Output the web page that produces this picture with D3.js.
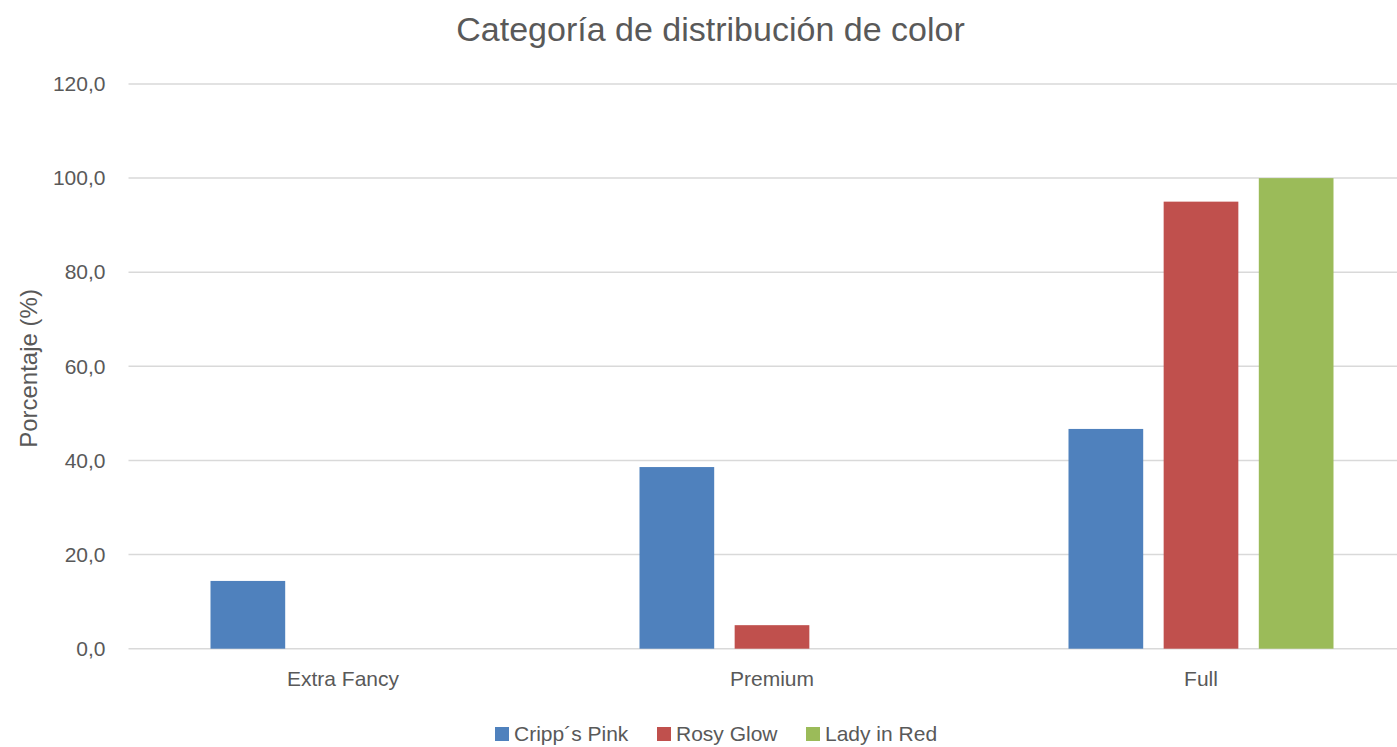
<!DOCTYPE html>
<html><head><meta charset="utf-8">
<script src="https://cdn.jsdelivr.net/npm/d3@7"></script>
<style>
html,body{margin:0;padding:0;background:#fff;}
svg text{font-family:"Liberation Sans",Arial,sans-serif;fill:#595959;}
</style></head>
<body>
<svg id="chart" width="1397" height="747"></svg>
<script>
const categories = ["Extra Fancy", "Premium", "Full"];
const seriesNames = ["Cripp\u00B4s Pink", "Rosy Glow", "Lady in Red"];
const crippsPink = [14.4, 38.6, 46.7];
const rosyGlow = [0, 5.0, 95.0];
const ladyInRed = [0, 0, 100.0];
const yTicks = [0, 20, 40, 60, 80, 100, 120];
const colors = ["#4f81bd", "#c0504d", "#9bbb59"];
const title = "Categoría de distribución de color";
const yTitle = "Porcentaje (%)";

const seriesValues = [crippsPink, rosyGlow, ladyInRed];
const svg = d3.select("#chart");
const plotLeft = 128.5, plotRight = 1415.5, plotTop = 84, plotBottom = 648.7;

const x0 = d3.scaleBand().domain(categories).range([plotLeft, plotRight]).padding(0);
const x1 = d3.scaleBand().domain(seriesNames).range([82, x0.bandwidth() - 82]).paddingInner(0.215).paddingOuter(0);
const y = d3.scaleLinear().domain([0, 120]).range([plotBottom, plotTop]);
const fmt = v => d3.format(".1f")(v).replace(".", ",");

// gridlines
svg.append("g").selectAll("line").data(yTicks).join("line")
  .attr("x1", plotLeft).attr("x2", 1397)
  .attr("y1", d => y(d)).attr("y2", d => y(d))
  .attr("stroke", "#d9d9d9").attr("stroke-width", 1.5);

// y axis labels
const yAxis = svg.append("g").attr("transform", `translate(${plotLeft - 23},0)`)
  .call(d3.axisLeft(y).tickValues(yTicks).tickFormat(fmt).tickSize(0).tickPadding(0));
yAxis.select(".domain").remove();
yAxis.selectAll("text").attr("font-size", 21).attr("fill", "#595959")
  .style("font-family", '"Liberation Sans",Arial,sans-serif');

// bars
const groups = svg.append("g").selectAll("g").data(categories).join("g")
  .attr("transform", d => `translate(${x0(d)},0)`);
groups.selectAll("rect").data((c, ci) => seriesNames.map((s, si) => ({s, si, v: seriesValues[si][ci]})))
  .join("rect")
  .attr("x", d => x1(d.s)).attr("width", x1.bandwidth())
  .attr("y", d => y(d.v)).attr("height", d => y(0) - y(d.v))
  .attr("fill", d => colors[d.si]);

// x axis labels
const xAxis = svg.append("g").attr("transform", `translate(0,${plotBottom + 22})`)
  .call(d3.axisBottom(x0).tickSize(0).tickPadding(0));
xAxis.select(".domain").remove();
xAxis.selectAll("text").attr("font-size", 21).attr("fill", "#595959")
  .style("font-family", '"Liberation Sans",Arial,sans-serif');

// title
svg.append("text").attr("x", 710.5).attr("y", 41).attr("text-anchor", "middle")
  .attr("font-size", 34).text(title);

// y title
svg.append("text").attr("transform", "translate(37,368.5) rotate(-90)")
  .attr("text-anchor", "middle").attr("font-size", 24).text(yTitle);

// legend
const legendX = [495, 657, 806];
const lg = svg.append("g").selectAll("g").data(seriesNames).join("g")
  .attr("transform", (d, i) => `translate(${legendX[i]},727)`);
lg.append("rect").attr("width", 14).attr("height", 14).attr("fill", (d, i) => colors[i]);
lg.append("text").attr("x", 19).attr("y", 14).attr("font-size", 21).text(d => d);
</script>
</body></html>
